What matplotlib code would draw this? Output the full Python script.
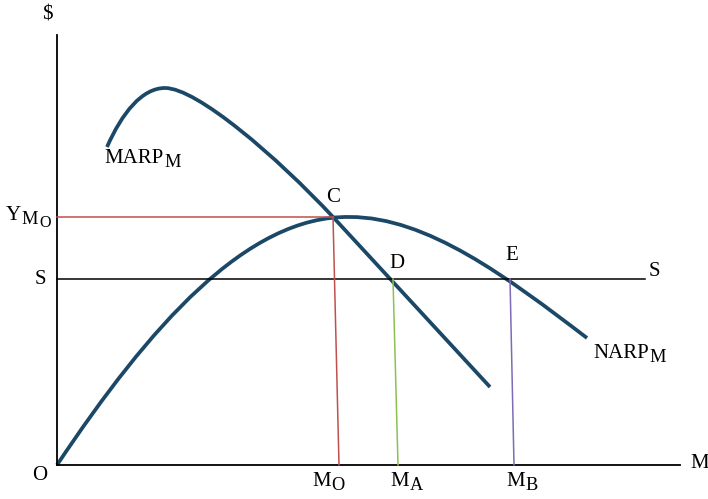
import numpy as np
import matplotlib.pyplot as plt
from matplotlib.path import Path
from matplotlib.patches import PathPatch

plt.rcParams['font.family'] = ['Liberation Serif', 'DejaVu Serif']

# marginal average revenue product: two cubic pieces up to C, then straight
marp_pts = [(50, 318), (65, 352), (85, 377), (108, 377),
            (140, 377), (220, 308), (276, 248),
            (433, 78)]
marp_codes = [Path.MOVETO, Path.CURVE4, Path.CURVE4, Path.CURVE4,
              Path.CURVE4, Path.CURVE4, Path.CURVE4,
              Path.LINETO]

# net average revenue product: rises from O to its peak, then falls
narp_pts = [(0, 0), (92, 138), (190, 250), (293, 248),
            (370, 248), (450, 188), (530, 127)]
narp_codes = [Path.MOVETO, Path.CURVE4, Path.CURVE4, Path.CURVE4,
              Path.CURVE4, Path.CURVE4, Path.CURVE4]

# key levels
y_mo = 248
s_level = 186
s_end = 588
m_o = (276, 282)   # top, bottom
m_a = (336, 341)
m_b = (453, 457)

curve_col = '#1c4868'
fs = 15


def label(ax, x, y, main, subs):
    # main text followed by a chain of subscripts, each one lower and smaller
    t = ax.text(x, y, main, fontsize=fs, ha='left', va='center')
    size = fs
    for s in subs:
        size = size * 0.88
        t = ax.annotate(s, xy=(1, 0), xycoords=t, xytext=(0.5, -2.5),
                        textcoords='offset points', fontsize=size,
                        ha='left', va='bottom')


def main():
    fig = plt.figure(figsize=(7.08, 4.99), dpi=100)
    ax = fig.add_axes([0, 0, 1, 1])
    ax.set_xlim(-57, 651)
    ax.set_ylim(-34, 465)
    ax.axis('off')

    # axes
    ax.plot([0, 0], [0, 430], color='black', lw=1.3)
    ax.plot([0, 623], [0, 0], color='black', lw=1.3)

    # S line and the Y level
    ax.plot([0, s_end], [s_level, s_level], color='black', lw=1.1)
    ax.plot([0, m_o[0]], [y_mo, y_mo], color='#c0504d', lw=1.1)

    # drop lines to the M axis
    ax.plot([m_o[0], m_o[1]], [y_mo, 0], color='#c0504d', lw=1.1)
    ax.plot([m_a[0], m_a[1]], [s_level, 0], color='#8cc152', lw=1.1)
    ax.plot([m_b[0], m_b[1]], [s_level, 0], color='#7e6bb5', lw=1.1)

    for pts, codes in [(marp_pts, marp_codes), (narp_pts, narp_codes)]:
        ax.add_patch(PathPatch(Path(pts, codes), facecolor='none',
                               edgecolor=curve_col, lw=2.7, capstyle='butt'))

    ax.text(-10, 450, '$', fontsize=fs, ha='center', va='center')
    label(ax, -51, y_mo + 2, 'Y', ['M', 'O'])
    ax.text(-17, s_level, 'S', fontsize=fs, ha='center', va='center')
    ax.text(-17, -11, 'O', fontsize=fs, ha='center', va='center')
    ax.text(633, 2, 'M', fontsize=fs, ha='left', va='center')
    label(ax, 255, -16, 'M', ['O'])
    label(ax, 333, -16, 'M', ['A'])
    label(ax, 449, -16, 'M', ['B'])
    ax.text(276, 268, 'C', fontsize=fs, ha='center', va='center')
    ax.text(340, 201, 'D', fontsize=fs, ha='center', va='center')
    ax.text(455, 209, 'E', fontsize=fs, ha='center', va='center')
    ax.text(592, 193, 'S', fontsize=fs, ha='left', va='center')
    label(ax, 47, 307, 'MARP', ['M'])
    label(ax, 536, 112, 'NARP', ['M'])

    fig.savefig('out.png', dpi=100)


if __name__ == "__main__":
    main()
